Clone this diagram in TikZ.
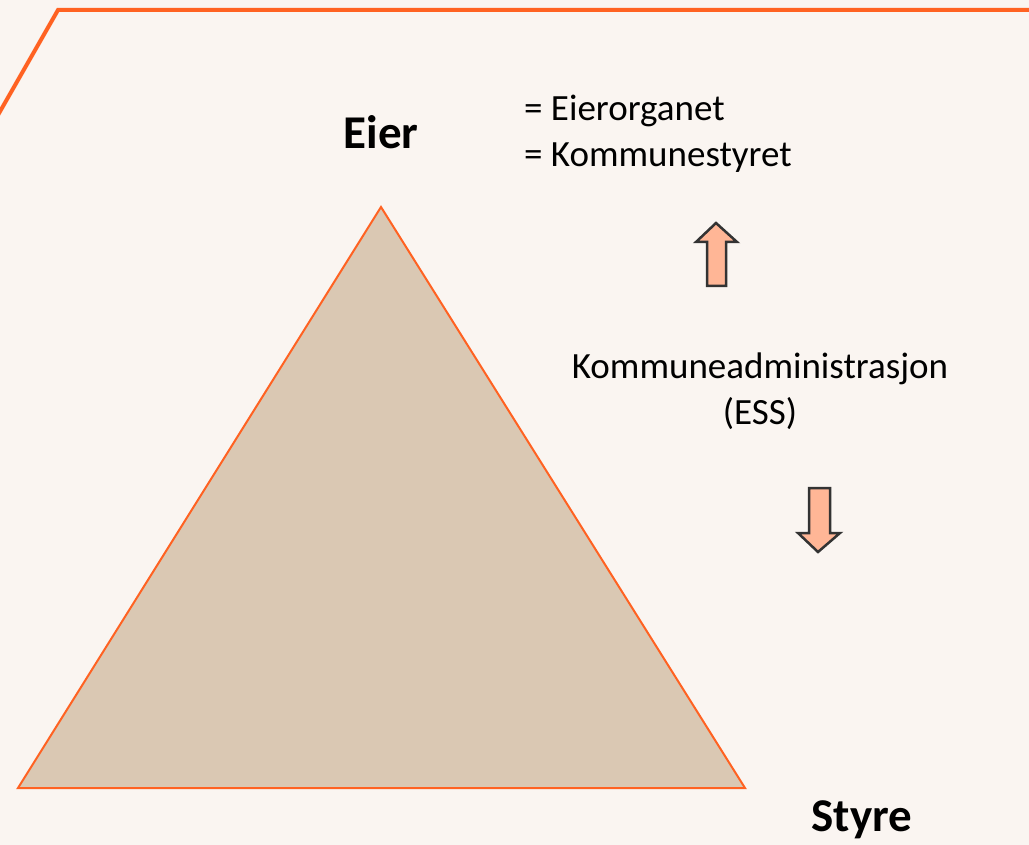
\documentclass[tikz,border=0pt]{standalone}
\usepackage{fontspec}
\setmainfont{Carlito}
\definecolor{bg}{HTML}{FAF5F1}
\definecolor{orng}{HTML}{FF6222}
\definecolor{tri}{HTML}{DAC8B3}
\definecolor{arrfill}{HTML}{FFB696}
\definecolor{arrline}{HTML}{333333}
\tikzset{
  bigtitle/.style={font=\fontsize{47}{54}\selectfont\bfseries, inner sep=0pt},
  plain/.style={font=\fontsize{37}{46}\selectfont, inner sep=0pt},
  blockarrow/.style={fill=arrfill, draw=arrline, line width=2.5pt, line join=miter}
}
\begin{document}
\begin{tikzpicture}[x=1pt,y=-1pt]
\useasboundingbox (0,0) rectangle (1029,845);
\fill[bg] (0,0) rectangle (1029,845);
\draw[orng, line width=4pt] (-2,115) -- (58,10) -- (1035,10);
\draw[fill=tri, draw=orng, line width=2pt, line join=miter] (381,207) -- (745,788) -- (18,788) -- cycle;
\node[bigtitle] (eier) at (381,132) {Eier};
\node[bigtitle] (styre) at (862,820) {Styre};
\node[plain, anchor=west] (l1) at (524,111) {= Eierorganet};
\node[plain, anchor=west] (l2) at (524,158) {= Kommunestyret};
\node[plain, align=center] (adm) at (760,391) {Kommuneadministrasjon\\(ESS)};
% up arrow
\draw[blockarrow] (716,223) -- (737,242) -- (726,242) -- (726,286) -- (707,286) -- (707,242) -- (696,242) -- cycle;
% down arrow
\draw[blockarrow] (818,552) -- (840,533) -- (830,533) -- (830,488) -- (809,488) -- (809,533) -- (798,533) -- cycle;
\end{tikzpicture}
\end{document}
